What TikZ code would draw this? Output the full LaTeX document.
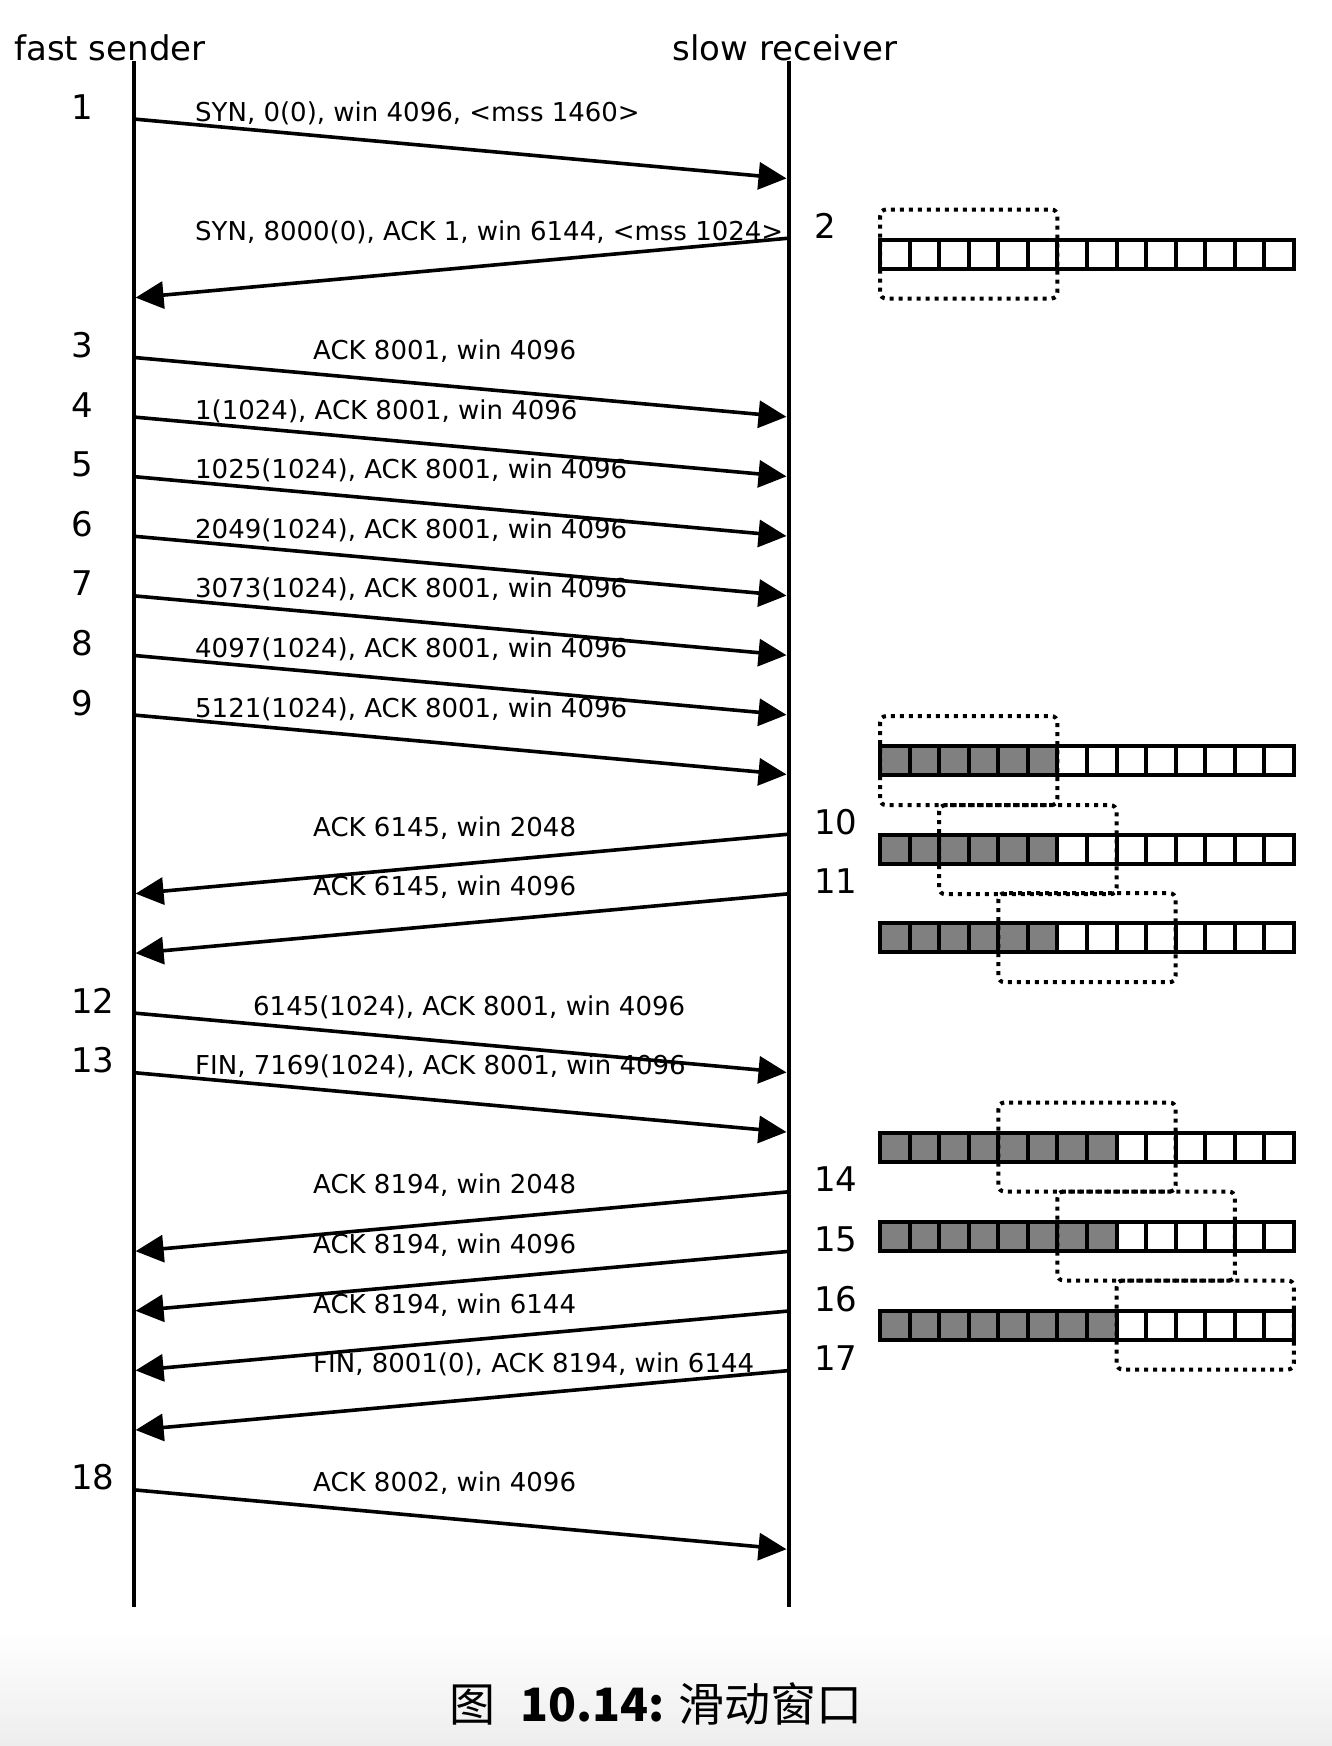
\documentclass[tikz,border=0pt]{standalone}
\usepackage{fontspec}
\setmainfont{DejaVu Sans}
\newfontfamily\cjk{Noto Sans CJK SC}
\usetikzlibrary{arrows.meta}
\definecolor{SWGrey}{HTML}{808080}
\tikzset{
  lifeline/.style={line width=4pt},
  msg/.style={-{Triangle[length=28pt,width=27pt]},line width=3.6pt,shorten >=2pt},
  msglabel/.style={anchor=base west,inner sep=0pt,font=\fontsize{26}{30}\selectfont},
  stepno/.style={anchor=base west,inner sep=0pt,font=\fontsize{34}{40}\selectfont},
  host/.style={anchor=base,inner sep=0pt,font=\fontsize{34}{40}\selectfont},
  cell/.style={draw,line width=4pt},
  window/.style={draw,line width=4pt,dash pattern=on 4pt off 5pt,rounded corners=6pt},
  caption/.style={inner sep=0pt,font=\cjk\fontsize{46}{52}\selectfont},
}
\begin{document}
\begin{tikzpicture}[x=1pt,y=-1pt]
  \useasboundingbox (0,0) rectangle (1332,1746);
  \shade[top color=white,bottom color=black!7] (0,1630) rectangle (1332,1746);

  % the two hosts and their time lines
  \node[host] (snd) at (110,60) {fast sender};
  \node[host] (rcv) at (785,60) {slow receiver};
  \coordinate (sndtop) at (133.6,61);
  \coordinate (sndbot) at (133.6,1607);
  \coordinate (rcvtop) at (788.5,61);
  \coordinate (rcvbot) at (788.5,1607);
  \draw[lifeline] (sndtop) -- (sndbot);
  \draw[lifeline] (rcvtop) -- (rcvbot);

  % segments going to the receiver
  \foreach \n/\r/\lx/\txt in {
      1/0/195/{SYN, 0(0), win 4096, <mss 1460>},
      3/4/313/{ACK 8001, win 4096},
      4/5/195/{1(1024), ACK 8001, win 4096},
      5/6/195/{1025(1024), ACK 8001, win 4096},
      6/7/195/{2049(1024), ACK 8001, win 4096},
      7/8/195/{3073(1024), ACK 8001, win 4096},
      8/9/195/{4097(1024), ACK 8001, win 4096},
      9/10/195/{5121(1024), ACK 8001, win 4096},
      12/15/253/{6145(1024), ACK 8001, win 4096},
      13/16/195/{FIN, 7169(1024), ACK 8001, win 4096},
      18/23/313/{ACK 8002, win 4096}}{
    \pgfmathsetmacro\ya{119+59.6*\r}
    \pgfmathsetmacro\yb{\ya+59.6}
    \coordinate (m\n a) at (133.6,\ya);
    \coordinate (m\n b) at (788.5,\yb);
    \draw[msg] (m\n a) -- (m\n b);
    \node[msglabel] (t\n) at (\lx,\ya+2) {\txt};
    \node[stepno] (n\n) at (71,\ya) {\n};
  }

  % segments coming back to the sender
  \foreach \n/\r/\lx/\txt in {
      2/2/195/{SYN, 8000(0), ACK 1, win 6144, <mss 1024>},
      10/12/313/{ACK 6145, win 2048},
      11/13/313/{ACK 6145, win 4096},
      14/18/313/{ACK 8194, win 2048},
      15/19/313/{ACK 8194, win 4096},
      16/20/313/{ACK 8194, win 6144},
      17/21/313/{FIN, 8001(0), ACK 8194, win 6144}}{
    \pgfmathsetmacro\ya{119+59.6*\r}
    \pgfmathsetmacro\yb{\ya+59.6}
    \coordinate (m\n a) at (788.5,\ya);
    \coordinate (m\n b) at (133.6,\yb);
    \draw[msg] (m\n a) -- (m\n b);
    \node[msglabel] (t\n) at (\lx,\ya+2) {\txt};
    \node[stepno] (n\n) at (814,\ya) {\n};
  }

  % receive buffer: row centre / filled cells / first cell of the window
  \foreach \cy/\full/\ws in {254/0/0,760.6/6/0,849.7/6/2,937.7/6/4,1147/8/4,1236/8/6,1325/8/8}{
    \foreach \i in {0,...,13}{
      \ifnum\i<\full
        \draw[cell,fill=SWGrey] (880+29.57*\i,\cy-14.5) rectangle +(29.57,29);
      \else
        \draw[cell,fill=white] (880+29.57*\i,\cy-14.5) rectangle +(29.57,29);
      \fi
    }
    \draw[window] (880+29.57*\ws,\cy-44.5) rectangle +(177.4,89);
  }

  \node[caption] (cap) at (656,1704) {图\hspace{0.55em}\textbf{10.14:} 滑动窗口};
\end{tikzpicture}
\end{document}
